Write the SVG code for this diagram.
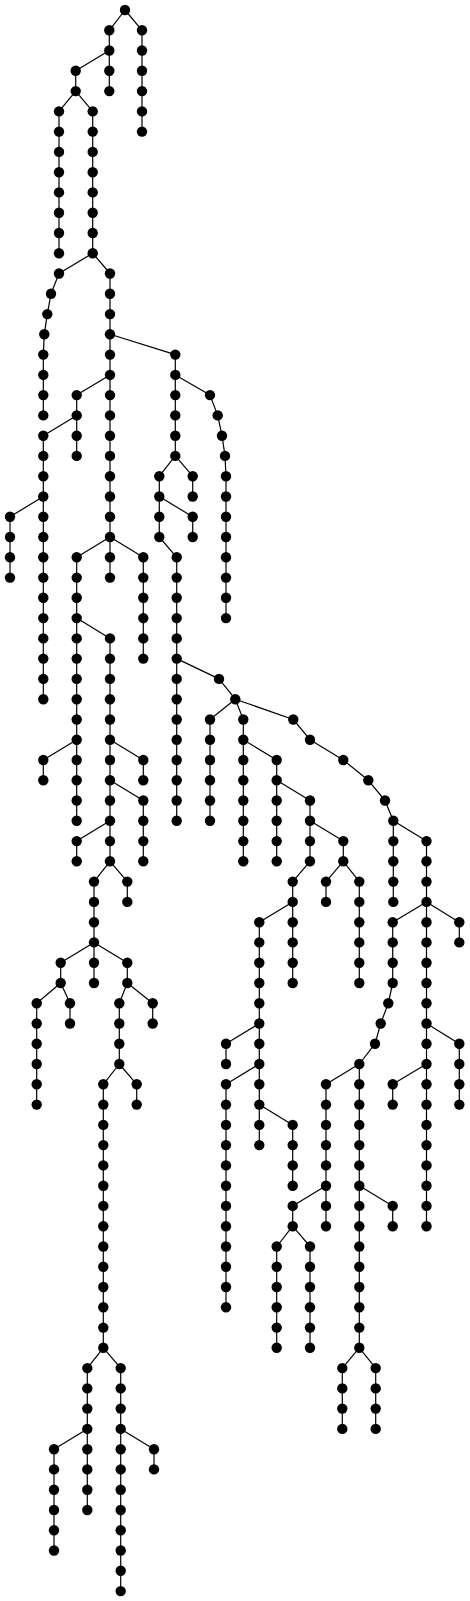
<svg xmlns="http://www.w3.org/2000/svg" xmlns:xlink="http://www.w3.org/1999/xlink" width="470" height="1601" viewBox="0 0 470 1601">
<style>
.e{stroke:#000;stroke-width:1.2;fill:none;stroke-linejoin:round}
.d{fill:#000}
</style>
<defs><circle id="d" class="d" cx="0" cy="0" r="5.2"/></defs>
<rect width="470" height="1601" fill="#fff"/>
<g id="edges" class="e">
<path d="M125,10 L109.3,30.3 L109.3,91.1"/>
<path d="M125,10 L142,30.3 L142,131.6"/>
<path d="M109.3,50.5 L75.7,70.8 L75.7,91.1 L59,111.4 L59,253.2"/>
<path d="M75.7,91.1 L92.7,111.4 L92.7,253.2 L59,273.5 L51,293.8 L47.3,314.1 L44.3,334.3 L43.3,354.6 L43.3,415.4"/>
<path d="M92.7,253.2 L110,273.5 L110,577.6"/>
<path d="M110,334.3 L175.3,354.6 L175.3,455.9 L159.3,476.2 L159.3,537 L176.7,557.3 L176.7,820.8"/>
<path d="M175.3,374.9 L210,395.1 L217.7,415.4 L222,435.7 L225,455.9 L226,476.2 L226,618.1"/>
<path d="M175.3,455.9 L192.7,476.2 L192.7,496.5"/>
<path d="M159.3,496.5 L192.7,516.8 L192.7,537"/>
<path d="M110,374.9 L76.7,395.1 L76.7,455.9"/>
<path d="M76.7,415.4 L43.3,435.7 L43.3,699.2"/>
<path d="M43.3,496.5 L10,516.8 L10,577.6"/>
<path d="M110,537 L76.7,557.3 L76.7,820.8"/>
<path d="M110,537 L143.3,557.3 L143.3,658.6"/>
<path d="M76.7,618.1 L110,638.4 L110,861.3 L94,881.6 L94,983"/>
<path d="M76.7,739.7 L43.3,760 L43.3,780.3"/>
<path d="M110,739.7 L143.3,760 L143.3,780.3"/>
<path d="M110,780.3 L143.3,800.5 L143.3,861.3"/>
<path d="M110,820.8 L76.7,841.1 L76.7,861.3"/>
<path d="M110,861.3 L127.3,881.6 L127.3,901.9"/>
<path d="M94,942.4 L60.7,962.7 L60.7,983 L36.7,1003.2 L36.7,1104.6"/>
<path d="M60.7,983 L70,1003.2 L70,1023.5"/>
<path d="M94,942.4 L127.3,962.7 L127.3,983 L119.3,1003.2 L119.3,1064 L103.3,1084.3 L103.3,1347.8 L87.3,1368.1 L87.3,1428.9 L54,1449.2 L54,1550.5"/>
<path d="M127.3,983 L152.7,1003.2 L152.7,1023.5"/>
<path d="M119.3,1064 L136.7,1084.3 L136.7,1104.6"/>
<path d="M87.3,1428.9 L87.3,1510"/>
<path d="M103.3,1347.8 L120.7,1368.1 L120.7,1591.1"/>
<path d="M120.7,1428.9 L154,1449.2 L154,1469.4"/>
<path d="M176.7,658.6 L219,678.9 L235.3,699.2 L210,719.5 L210,820.8"/>
<path d="M235.3,699.2 L243.3,719.5 L243.3,861.3"/>
<path d="M243.3,739.7 L276.7,760 L276.7,861.3"/>
<path d="M276.7,780.3 L310,800.5 L310,861.3 L292.7,881.6 L292.7,983"/>
<path d="M310,820.8 L343.3,841.1 L343.3,861.3 L359.3,881.6 L359.3,983"/>
<path d="M343.3,861.3 L326,881.6 L326,901.9"/>
<path d="M292.7,901.9 L259.3,922.2 L259.3,1145.1"/>
<path d="M259.3,1023.5 L226,1043.8 L226,1064"/>
<path d="M259.3,1064 L226,1084.3 L226,1307.3"/>
<path d="M259.3,1104.6 L292.7,1124.9 L292.7,1185.7"/>
<path d="M235.3,699.2 L293.3,719.5 L310,739.7 L343.3,760 L368.3,780.3 L385,800.5 L393.3,820.8 L393.3,901.9"/>
<path d="M393.3,820.8 L426.5,841.1 L426.5,1226.2"/>
<path d="M426.5,901.9 L459.3,922.2 L459.3,942.4"/>
<path d="M426.5,901.9 L392.7,922.2 L392.7,983 L388.3,1003.2 L380.7,1023.5 L375,1043.8 L359.3,1064 L359.3,1347.8 L342.3,1368.1 L342.3,1428.9"/>
<path d="M359.3,1347.8 L375.7,1368.1 L375.7,1428.9"/>
<path d="M359.3,1064 L326,1084.3 L326,1226.2"/>
<path d="M326,1185.7 L292.7,1205.9 L292.7,1226.2 L276.7,1246.5 L276.7,1347.8"/>
<path d="M292.7,1226.2 L310,1246.5 L310,1347.8"/>
<path d="M359.3,1185.7 L392.7,1205.9 L392.7,1226.2"/>
<path d="M426.5,1023.5 L459.3,1043.8 L459.3,1104.6"/>
<path d="M426.5,1064 L392.7,1084.3 L392.7,1104.6"/>
</g>
<g id="nodes">
<g id="n0"><use href="#d" x="125" y="10"/></g>
<g id="n1"><use href="#d" x="109.3" y="30.3"/></g>
<g id="n2"><use href="#d" x="109.3" y="50.5"/></g>
<g id="n3"><use href="#d" x="109.3" y="70.8"/></g>
<g id="n4"><use href="#d" x="109.3" y="91.1"/></g>
<g id="n5"><use href="#d" x="142" y="30.3"/></g>
<g id="n6"><use href="#d" x="142" y="50.5"/></g>
<g id="n7"><use href="#d" x="142" y="70.8"/></g>
<g id="n8"><use href="#d" x="142" y="91.1"/></g>
<g id="n9"><use href="#d" x="142" y="111.4"/></g>
<g id="n10"><use href="#d" x="142" y="131.6"/></g>
<g id="n11"><use href="#d" x="75.7" y="70.8"/></g>
<g id="n12"><use href="#d" x="75.7" y="91.1"/></g>
<g id="n13"><use href="#d" x="59" y="111.4"/></g>
<g id="n14"><use href="#d" x="59" y="131.6"/></g>
<g id="n15"><use href="#d" x="59" y="151.9"/></g>
<g id="n16"><use href="#d" x="59" y="172.2"/></g>
<g id="n17"><use href="#d" x="59" y="192.4"/></g>
<g id="n18"><use href="#d" x="59" y="212.7"/></g>
<g id="n19"><use href="#d" x="59" y="233"/></g>
<g id="n20"><use href="#d" x="59" y="253.2"/></g>
<g id="n21"><use href="#d" x="92.7" y="111.4"/></g>
<g id="n22"><use href="#d" x="92.7" y="131.6"/></g>
<g id="n23"><use href="#d" x="92.7" y="151.9"/></g>
<g id="n24"><use href="#d" x="92.7" y="172.2"/></g>
<g id="n25"><use href="#d" x="92.7" y="192.4"/></g>
<g id="n26"><use href="#d" x="92.7" y="212.7"/></g>
<g id="n27"><use href="#d" x="92.7" y="233"/></g>
<g id="n28"><use href="#d" x="92.7" y="253.2"/></g>
<g id="n29"><use href="#d" x="59" y="273.5"/></g>
<g id="n30"><use href="#d" x="51" y="293.8"/></g>
<g id="n31"><use href="#d" x="47.3" y="314.1"/></g>
<g id="n32"><use href="#d" x="44.3" y="334.3"/></g>
<g id="n33"><use href="#d" x="43.3" y="354.6"/></g>
<g id="n34"><use href="#d" x="43.3" y="374.9"/></g>
<g id="n35"><use href="#d" x="43.3" y="395.1"/></g>
<g id="n36"><use href="#d" x="43.3" y="415.4"/></g>
<g id="n37"><use href="#d" x="110" y="273.5"/></g>
<g id="n38"><use href="#d" x="110" y="293.8"/></g>
<g id="n39"><use href="#d" x="110" y="314.1"/></g>
<g id="n40"><use href="#d" x="110" y="334.3"/></g>
<g id="n41"><use href="#d" x="110" y="354.6"/></g>
<g id="n42"><use href="#d" x="110" y="374.9"/></g>
<g id="n43"><use href="#d" x="110" y="395.1"/></g>
<g id="n44"><use href="#d" x="110" y="415.4"/></g>
<g id="n45"><use href="#d" x="110" y="435.7"/></g>
<g id="n46"><use href="#d" x="110" y="455.9"/></g>
<g id="n47"><use href="#d" x="110" y="476.2"/></g>
<g id="n48"><use href="#d" x="110" y="496.5"/></g>
<g id="n49"><use href="#d" x="110" y="516.8"/></g>
<g id="n50"><use href="#d" x="110" y="537"/></g>
<g id="n51"><use href="#d" x="110" y="557.3"/></g>
<g id="n52"><use href="#d" x="110" y="577.6"/></g>
<g id="n53"><use href="#d" x="175.3" y="354.6"/></g>
<g id="n54"><use href="#d" x="175.3" y="374.9"/></g>
<g id="n55"><use href="#d" x="175.3" y="395.1"/></g>
<g id="n56"><use href="#d" x="175.3" y="415.4"/></g>
<g id="n57"><use href="#d" x="175.3" y="435.7"/></g>
<g id="n58"><use href="#d" x="175.3" y="455.9"/></g>
<g id="n59"><use href="#d" x="159.3" y="476.2"/></g>
<g id="n60"><use href="#d" x="159.3" y="496.5"/></g>
<g id="n61"><use href="#d" x="159.3" y="516.8"/></g>
<g id="n62"><use href="#d" x="159.3" y="537"/></g>
<g id="n63"><use href="#d" x="176.7" y="557.3"/></g>
<g id="n64"><use href="#d" x="176.7" y="577.6"/></g>
<g id="n65"><use href="#d" x="176.7" y="597.8"/></g>
<g id="n66"><use href="#d" x="176.7" y="618.1"/></g>
<g id="n67"><use href="#d" x="176.7" y="638.4"/></g>
<g id="n68"><use href="#d" x="176.7" y="658.6"/></g>
<g id="n69"><use href="#d" x="176.7" y="678.9"/></g>
<g id="n70"><use href="#d" x="176.7" y="699.2"/></g>
<g id="n71"><use href="#d" x="176.7" y="719.5"/></g>
<g id="n72"><use href="#d" x="176.7" y="739.7"/></g>
<g id="n73"><use href="#d" x="176.7" y="760"/></g>
<g id="n74"><use href="#d" x="176.7" y="780.3"/></g>
<g id="n75"><use href="#d" x="176.7" y="800.5"/></g>
<g id="n76"><use href="#d" x="176.7" y="820.8"/></g>
<g id="n77"><use href="#d" x="210" y="395.1"/></g>
<g id="n78"><use href="#d" x="217.7" y="415.4"/></g>
<g id="n79"><use href="#d" x="222" y="435.7"/></g>
<g id="n80"><use href="#d" x="225" y="455.9"/></g>
<g id="n81"><use href="#d" x="226" y="476.2"/></g>
<g id="n82"><use href="#d" x="226" y="496.5"/></g>
<g id="n83"><use href="#d" x="226" y="516.8"/></g>
<g id="n84"><use href="#d" x="226" y="537"/></g>
<g id="n85"><use href="#d" x="226" y="557.3"/></g>
<g id="n86"><use href="#d" x="226" y="577.6"/></g>
<g id="n87"><use href="#d" x="226" y="597.8"/></g>
<g id="n88"><use href="#d" x="226" y="618.1"/></g>
<g id="n89"><use href="#d" x="192.7" y="476.2"/></g>
<g id="n90"><use href="#d" x="192.7" y="496.5"/></g>
<g id="n91"><use href="#d" x="192.7" y="516.8"/></g>
<g id="n92"><use href="#d" x="192.7" y="537"/></g>
<g id="n93"><use href="#d" x="76.7" y="395.1"/></g>
<g id="n94"><use href="#d" x="76.7" y="415.4"/></g>
<g id="n95"><use href="#d" x="76.7" y="435.7"/></g>
<g id="n96"><use href="#d" x="76.7" y="455.9"/></g>
<g id="n97"><use href="#d" x="43.3" y="435.7"/></g>
<g id="n98"><use href="#d" x="43.3" y="455.9"/></g>
<g id="n99"><use href="#d" x="43.3" y="476.2"/></g>
<g id="n100"><use href="#d" x="43.3" y="496.5"/></g>
<g id="n101"><use href="#d" x="43.3" y="516.8"/></g>
<g id="n102"><use href="#d" x="43.3" y="537"/></g>
<g id="n103"><use href="#d" x="43.3" y="557.3"/></g>
<g id="n104"><use href="#d" x="43.3" y="577.6"/></g>
<g id="n105"><use href="#d" x="43.3" y="597.8"/></g>
<g id="n106"><use href="#d" x="43.3" y="618.1"/></g>
<g id="n107"><use href="#d" x="43.3" y="638.4"/></g>
<g id="n108"><use href="#d" x="43.3" y="658.6"/></g>
<g id="n109"><use href="#d" x="43.3" y="678.9"/></g>
<g id="n110"><use href="#d" x="43.3" y="699.2"/></g>
<g id="n111"><use href="#d" x="10" y="516.8"/></g>
<g id="n112"><use href="#d" x="10" y="537"/></g>
<g id="n113"><use href="#d" x="10" y="557.3"/></g>
<g id="n114"><use href="#d" x="10" y="577.6"/></g>
<g id="n115"><use href="#d" x="76.7" y="557.3"/></g>
<g id="n116"><use href="#d" x="76.7" y="577.6"/></g>
<g id="n117"><use href="#d" x="76.7" y="597.8"/></g>
<g id="n118"><use href="#d" x="76.7" y="618.1"/></g>
<g id="n119"><use href="#d" x="76.7" y="638.4"/></g>
<g id="n120"><use href="#d" x="76.7" y="658.6"/></g>
<g id="n121"><use href="#d" x="76.7" y="678.9"/></g>
<g id="n122"><use href="#d" x="76.7" y="699.2"/></g>
<g id="n123"><use href="#d" x="76.7" y="719.5"/></g>
<g id="n124"><use href="#d" x="76.7" y="739.7"/></g>
<g id="n125"><use href="#d" x="76.7" y="760"/></g>
<g id="n126"><use href="#d" x="76.7" y="780.3"/></g>
<g id="n127"><use href="#d" x="76.7" y="800.5"/></g>
<g id="n128"><use href="#d" x="76.7" y="820.8"/></g>
<g id="n129"><use href="#d" x="143.3" y="557.3"/></g>
<g id="n130"><use href="#d" x="143.3" y="577.6"/></g>
<g id="n131"><use href="#d" x="143.3" y="597.8"/></g>
<g id="n132"><use href="#d" x="143.3" y="618.1"/></g>
<g id="n133"><use href="#d" x="143.3" y="638.4"/></g>
<g id="n134"><use href="#d" x="143.3" y="658.6"/></g>
<g id="n135"><use href="#d" x="110" y="638.4"/></g>
<g id="n136"><use href="#d" x="110" y="658.6"/></g>
<g id="n137"><use href="#d" x="110" y="678.9"/></g>
<g id="n138"><use href="#d" x="110" y="699.2"/></g>
<g id="n139"><use href="#d" x="110" y="719.5"/></g>
<g id="n140"><use href="#d" x="110" y="739.7"/></g>
<g id="n141"><use href="#d" x="110" y="760"/></g>
<g id="n142"><use href="#d" x="110" y="780.3"/></g>
<g id="n143"><use href="#d" x="110" y="800.5"/></g>
<g id="n144"><use href="#d" x="110" y="820.8"/></g>
<g id="n145"><use href="#d" x="110" y="841.1"/></g>
<g id="n146"><use href="#d" x="110" y="861.3"/></g>
<g id="n147"><use href="#d" x="94" y="881.6"/></g>
<g id="n148"><use href="#d" x="94" y="901.9"/></g>
<g id="n149"><use href="#d" x="94" y="922.2"/></g>
<g id="n150"><use href="#d" x="94" y="942.4"/></g>
<g id="n151"><use href="#d" x="94" y="962.7"/></g>
<g id="n152"><use href="#d" x="94" y="983"/></g>
<g id="n153"><use href="#d" x="43.3" y="760"/></g>
<g id="n154"><use href="#d" x="43.3" y="780.3"/></g>
<g id="n155"><use href="#d" x="143.3" y="760"/></g>
<g id="n156"><use href="#d" x="143.3" y="780.3"/></g>
<g id="n157"><use href="#d" x="143.3" y="800.5"/></g>
<g id="n158"><use href="#d" x="143.3" y="820.8"/></g>
<g id="n159"><use href="#d" x="143.3" y="841.1"/></g>
<g id="n160"><use href="#d" x="143.3" y="861.3"/></g>
<g id="n161"><use href="#d" x="76.7" y="841.1"/></g>
<g id="n162"><use href="#d" x="76.7" y="861.3"/></g>
<g id="n163"><use href="#d" x="127.3" y="881.6"/></g>
<g id="n164"><use href="#d" x="127.3" y="901.9"/></g>
<g id="n165"><use href="#d" x="60.7" y="962.7"/></g>
<g id="n166"><use href="#d" x="60.7" y="983"/></g>
<g id="n167"><use href="#d" x="36.7" y="1003.2"/></g>
<g id="n168"><use href="#d" x="36.7" y="1023.5"/></g>
<g id="n169"><use href="#d" x="36.7" y="1043.8"/></g>
<g id="n170"><use href="#d" x="36.7" y="1064"/></g>
<g id="n171"><use href="#d" x="36.7" y="1084.3"/></g>
<g id="n172"><use href="#d" x="36.7" y="1104.6"/></g>
<g id="n173"><use href="#d" x="70" y="1003.2"/></g>
<g id="n174"><use href="#d" x="70" y="1023.5"/></g>
<g id="n175"><use href="#d" x="127.3" y="962.7"/></g>
<g id="n176"><use href="#d" x="127.3" y="983"/></g>
<g id="n177"><use href="#d" x="119.3" y="1003.2"/></g>
<g id="n178"><use href="#d" x="119.3" y="1023.5"/></g>
<g id="n179"><use href="#d" x="119.3" y="1043.8"/></g>
<g id="n180"><use href="#d" x="119.3" y="1064"/></g>
<g id="n181"><use href="#d" x="103.3" y="1084.3"/></g>
<g id="n182"><use href="#d" x="103.3" y="1104.6"/></g>
<g id="n183"><use href="#d" x="103.3" y="1124.9"/></g>
<g id="n184"><use href="#d" x="103.3" y="1145.1"/></g>
<g id="n185"><use href="#d" x="103.3" y="1165.4"/></g>
<g id="n186"><use href="#d" x="103.3" y="1185.7"/></g>
<g id="n187"><use href="#d" x="103.3" y="1205.9"/></g>
<g id="n188"><use href="#d" x="103.3" y="1226.2"/></g>
<g id="n189"><use href="#d" x="103.3" y="1246.5"/></g>
<g id="n190"><use href="#d" x="103.3" y="1266.7"/></g>
<g id="n191"><use href="#d" x="103.3" y="1287"/></g>
<g id="n192"><use href="#d" x="103.3" y="1307.3"/></g>
<g id="n193"><use href="#d" x="103.3" y="1327.6"/></g>
<g id="n194"><use href="#d" x="103.3" y="1347.8"/></g>
<g id="n195"><use href="#d" x="87.3" y="1368.1"/></g>
<g id="n196"><use href="#d" x="87.3" y="1388.4"/></g>
<g id="n197"><use href="#d" x="87.3" y="1408.6"/></g>
<g id="n198"><use href="#d" x="87.3" y="1428.9"/></g>
<g id="n199"><use href="#d" x="54" y="1449.2"/></g>
<g id="n200"><use href="#d" x="54" y="1469.4"/></g>
<g id="n201"><use href="#d" x="54" y="1489.7"/></g>
<g id="n202"><use href="#d" x="54" y="1510"/></g>
<g id="n203"><use href="#d" x="54" y="1530.3"/></g>
<g id="n204"><use href="#d" x="54" y="1550.5"/></g>
<g id="n205"><use href="#d" x="152.7" y="1003.2"/></g>
<g id="n206"><use href="#d" x="152.7" y="1023.5"/></g>
<g id="n207"><use href="#d" x="136.7" y="1084.3"/></g>
<g id="n208"><use href="#d" x="136.7" y="1104.6"/></g>
<g id="n209"><use href="#d" x="87.3" y="1449.2"/></g>
<g id="n210"><use href="#d" x="87.3" y="1469.4"/></g>
<g id="n211"><use href="#d" x="87.3" y="1489.7"/></g>
<g id="n212"><use href="#d" x="87.3" y="1510"/></g>
<g id="n213"><use href="#d" x="120.7" y="1368.1"/></g>
<g id="n214"><use href="#d" x="120.7" y="1388.4"/></g>
<g id="n215"><use href="#d" x="120.7" y="1408.6"/></g>
<g id="n216"><use href="#d" x="120.7" y="1428.9"/></g>
<g id="n217"><use href="#d" x="120.7" y="1449.2"/></g>
<g id="n218"><use href="#d" x="120.7" y="1469.4"/></g>
<g id="n219"><use href="#d" x="120.7" y="1489.7"/></g>
<g id="n220"><use href="#d" x="120.7" y="1510"/></g>
<g id="n221"><use href="#d" x="120.7" y="1530.3"/></g>
<g id="n222"><use href="#d" x="120.7" y="1550.5"/></g>
<g id="n223"><use href="#d" x="120.7" y="1570.8"/></g>
<g id="n224"><use href="#d" x="120.7" y="1591.1"/></g>
<g id="n225"><use href="#d" x="154" y="1449.2"/></g>
<g id="n226"><use href="#d" x="154" y="1469.4"/></g>
<g id="n227"><use href="#d" x="219" y="678.9"/></g>
<g id="n228"><use href="#d" x="235.3" y="699.2"/></g>
<g id="n229"><use href="#d" x="210" y="719.5"/></g>
<g id="n230"><use href="#d" x="210" y="739.7"/></g>
<g id="n231"><use href="#d" x="210" y="760"/></g>
<g id="n232"><use href="#d" x="210" y="780.3"/></g>
<g id="n233"><use href="#d" x="210" y="800.5"/></g>
<g id="n234"><use href="#d" x="210" y="820.8"/></g>
<g id="n235"><use href="#d" x="243.3" y="719.5"/></g>
<g id="n236"><use href="#d" x="243.3" y="739.7"/></g>
<g id="n237"><use href="#d" x="243.3" y="760"/></g>
<g id="n238"><use href="#d" x="243.3" y="780.3"/></g>
<g id="n239"><use href="#d" x="243.3" y="800.5"/></g>
<g id="n240"><use href="#d" x="243.3" y="820.8"/></g>
<g id="n241"><use href="#d" x="243.3" y="841.1"/></g>
<g id="n242"><use href="#d" x="243.3" y="861.3"/></g>
<g id="n243"><use href="#d" x="276.7" y="760"/></g>
<g id="n244"><use href="#d" x="276.7" y="780.3"/></g>
<g id="n245"><use href="#d" x="276.7" y="800.5"/></g>
<g id="n246"><use href="#d" x="276.7" y="820.8"/></g>
<g id="n247"><use href="#d" x="276.7" y="841.1"/></g>
<g id="n248"><use href="#d" x="276.7" y="861.3"/></g>
<g id="n249"><use href="#d" x="310" y="800.5"/></g>
<g id="n250"><use href="#d" x="310" y="820.8"/></g>
<g id="n251"><use href="#d" x="310" y="841.1"/></g>
<g id="n252"><use href="#d" x="310" y="861.3"/></g>
<g id="n253"><use href="#d" x="292.7" y="881.6"/></g>
<g id="n254"><use href="#d" x="292.7" y="901.9"/></g>
<g id="n255"><use href="#d" x="292.7" y="922.2"/></g>
<g id="n256"><use href="#d" x="292.7" y="942.4"/></g>
<g id="n257"><use href="#d" x="292.7" y="962.7"/></g>
<g id="n258"><use href="#d" x="292.7" y="983"/></g>
<g id="n259"><use href="#d" x="343.3" y="841.1"/></g>
<g id="n260"><use href="#d" x="343.3" y="861.3"/></g>
<g id="n261"><use href="#d" x="359.3" y="881.6"/></g>
<g id="n262"><use href="#d" x="359.3" y="901.9"/></g>
<g id="n263"><use href="#d" x="359.3" y="922.2"/></g>
<g id="n264"><use href="#d" x="359.3" y="942.4"/></g>
<g id="n265"><use href="#d" x="359.3" y="962.7"/></g>
<g id="n266"><use href="#d" x="359.3" y="983"/></g>
<g id="n267"><use href="#d" x="326" y="881.6"/></g>
<g id="n268"><use href="#d" x="326" y="901.9"/></g>
<g id="n269"><use href="#d" x="259.3" y="922.2"/></g>
<g id="n270"><use href="#d" x="259.3" y="942.4"/></g>
<g id="n271"><use href="#d" x="259.3" y="962.7"/></g>
<g id="n272"><use href="#d" x="259.3" y="983"/></g>
<g id="n273"><use href="#d" x="259.3" y="1003.2"/></g>
<g id="n274"><use href="#d" x="259.3" y="1023.5"/></g>
<g id="n275"><use href="#d" x="259.3" y="1043.8"/></g>
<g id="n276"><use href="#d" x="259.3" y="1064"/></g>
<g id="n277"><use href="#d" x="259.3" y="1084.3"/></g>
<g id="n278"><use href="#d" x="259.3" y="1104.6"/></g>
<g id="n279"><use href="#d" x="259.3" y="1124.9"/></g>
<g id="n280"><use href="#d" x="259.3" y="1145.1"/></g>
<g id="n281"><use href="#d" x="226" y="1043.8"/></g>
<g id="n282"><use href="#d" x="226" y="1064"/></g>
<g id="n283"><use href="#d" x="226" y="1084.3"/></g>
<g id="n284"><use href="#d" x="226" y="1104.6"/></g>
<g id="n285"><use href="#d" x="226" y="1124.9"/></g>
<g id="n286"><use href="#d" x="226" y="1145.1"/></g>
<g id="n287"><use href="#d" x="226" y="1165.4"/></g>
<g id="n288"><use href="#d" x="226" y="1185.7"/></g>
<g id="n289"><use href="#d" x="226" y="1205.9"/></g>
<g id="n290"><use href="#d" x="226" y="1226.2"/></g>
<g id="n291"><use href="#d" x="226" y="1246.5"/></g>
<g id="n292"><use href="#d" x="226" y="1266.7"/></g>
<g id="n293"><use href="#d" x="226" y="1287"/></g>
<g id="n294"><use href="#d" x="226" y="1307.3"/></g>
<g id="n295"><use href="#d" x="292.7" y="1124.9"/></g>
<g id="n296"><use href="#d" x="292.7" y="1145.1"/></g>
<g id="n297"><use href="#d" x="292.7" y="1165.4"/></g>
<g id="n298"><use href="#d" x="292.7" y="1185.7"/></g>
<g id="n299"><use href="#d" x="293.3" y="719.5"/></g>
<g id="n300"><use href="#d" x="310" y="739.7"/></g>
<g id="n301"><use href="#d" x="343.3" y="760"/></g>
<g id="n302"><use href="#d" x="368.3" y="780.3"/></g>
<g id="n303"><use href="#d" x="385" y="800.5"/></g>
<g id="n304"><use href="#d" x="393.3" y="820.8"/></g>
<g id="n305"><use href="#d" x="393.3" y="841.1"/></g>
<g id="n306"><use href="#d" x="393.3" y="861.3"/></g>
<g id="n307"><use href="#d" x="393.3" y="881.6"/></g>
<g id="n308"><use href="#d" x="393.3" y="901.9"/></g>
<g id="n309"><use href="#d" x="426.5" y="841.1"/></g>
<g id="n310"><use href="#d" x="426.5" y="861.3"/></g>
<g id="n311"><use href="#d" x="426.5" y="881.6"/></g>
<g id="n312"><use href="#d" x="426.5" y="901.9"/></g>
<g id="n313"><use href="#d" x="426.5" y="922.2"/></g>
<g id="n314"><use href="#d" x="426.5" y="942.4"/></g>
<g id="n315"><use href="#d" x="426.5" y="962.7"/></g>
<g id="n316"><use href="#d" x="426.5" y="983"/></g>
<g id="n317"><use href="#d" x="426.5" y="1003.2"/></g>
<g id="n318"><use href="#d" x="426.5" y="1023.5"/></g>
<g id="n319"><use href="#d" x="426.5" y="1043.8"/></g>
<g id="n320"><use href="#d" x="426.5" y="1064"/></g>
<g id="n321"><use href="#d" x="426.5" y="1084.3"/></g>
<g id="n322"><use href="#d" x="426.5" y="1104.6"/></g>
<g id="n323"><use href="#d" x="426.5" y="1124.9"/></g>
<g id="n324"><use href="#d" x="426.5" y="1145.1"/></g>
<g id="n325"><use href="#d" x="426.5" y="1165.4"/></g>
<g id="n326"><use href="#d" x="426.5" y="1185.7"/></g>
<g id="n327"><use href="#d" x="426.5" y="1205.9"/></g>
<g id="n328"><use href="#d" x="426.5" y="1226.2"/></g>
<g id="n329"><use href="#d" x="459.3" y="922.2"/></g>
<g id="n330"><use href="#d" x="459.3" y="942.4"/></g>
<g id="n331"><use href="#d" x="392.7" y="922.2"/></g>
<g id="n332"><use href="#d" x="392.7" y="942.4"/></g>
<g id="n333"><use href="#d" x="392.7" y="962.7"/></g>
<g id="n334"><use href="#d" x="392.7" y="983"/></g>
<g id="n335"><use href="#d" x="388.3" y="1003.2"/></g>
<g id="n336"><use href="#d" x="380.7" y="1023.5"/></g>
<g id="n337"><use href="#d" x="375" y="1043.8"/></g>
<g id="n338"><use href="#d" x="359.3" y="1064"/></g>
<g id="n339"><use href="#d" x="359.3" y="1084.3"/></g>
<g id="n340"><use href="#d" x="359.3" y="1104.6"/></g>
<g id="n341"><use href="#d" x="359.3" y="1124.9"/></g>
<g id="n342"><use href="#d" x="359.3" y="1145.1"/></g>
<g id="n343"><use href="#d" x="359.3" y="1165.4"/></g>
<g id="n344"><use href="#d" x="359.3" y="1185.7"/></g>
<g id="n345"><use href="#d" x="359.3" y="1205.9"/></g>
<g id="n346"><use href="#d" x="359.3" y="1226.2"/></g>
<g id="n347"><use href="#d" x="359.3" y="1246.5"/></g>
<g id="n348"><use href="#d" x="359.3" y="1266.7"/></g>
<g id="n349"><use href="#d" x="359.3" y="1287"/></g>
<g id="n350"><use href="#d" x="359.3" y="1307.3"/></g>
<g id="n351"><use href="#d" x="359.3" y="1327.6"/></g>
<g id="n352"><use href="#d" x="359.3" y="1347.8"/></g>
<g id="n353"><use href="#d" x="342.3" y="1368.1"/></g>
<g id="n354"><use href="#d" x="342.3" y="1388.4"/></g>
<g id="n355"><use href="#d" x="342.3" y="1408.6"/></g>
<g id="n356"><use href="#d" x="342.3" y="1428.9"/></g>
<g id="n357"><use href="#d" x="375.7" y="1368.1"/></g>
<g id="n358"><use href="#d" x="375.7" y="1388.4"/></g>
<g id="n359"><use href="#d" x="375.7" y="1408.6"/></g>
<g id="n360"><use href="#d" x="375.7" y="1428.9"/></g>
<g id="n361"><use href="#d" x="326" y="1084.3"/></g>
<g id="n362"><use href="#d" x="326" y="1104.6"/></g>
<g id="n363"><use href="#d" x="326" y="1124.9"/></g>
<g id="n364"><use href="#d" x="326" y="1145.1"/></g>
<g id="n365"><use href="#d" x="326" y="1165.4"/></g>
<g id="n366"><use href="#d" x="326" y="1185.7"/></g>
<g id="n367"><use href="#d" x="326" y="1205.9"/></g>
<g id="n368"><use href="#d" x="326" y="1226.2"/></g>
<g id="n369"><use href="#d" x="292.7" y="1205.9"/></g>
<g id="n370"><use href="#d" x="292.7" y="1226.2"/></g>
<g id="n371"><use href="#d" x="276.7" y="1246.5"/></g>
<g id="n372"><use href="#d" x="276.7" y="1266.7"/></g>
<g id="n373"><use href="#d" x="276.7" y="1287"/></g>
<g id="n374"><use href="#d" x="276.7" y="1307.3"/></g>
<g id="n375"><use href="#d" x="276.7" y="1327.6"/></g>
<g id="n376"><use href="#d" x="276.7" y="1347.8"/></g>
<g id="n377"><use href="#d" x="310" y="1246.5"/></g>
<g id="n378"><use href="#d" x="310" y="1266.7"/></g>
<g id="n379"><use href="#d" x="310" y="1287"/></g>
<g id="n380"><use href="#d" x="310" y="1307.3"/></g>
<g id="n381"><use href="#d" x="310" y="1327.6"/></g>
<g id="n382"><use href="#d" x="310" y="1347.8"/></g>
<g id="n383"><use href="#d" x="392.7" y="1205.9"/></g>
<g id="n384"><use href="#d" x="392.7" y="1226.2"/></g>
<g id="n385"><use href="#d" x="459.3" y="1043.8"/></g>
<g id="n386"><use href="#d" x="459.3" y="1064"/></g>
<g id="n387"><use href="#d" x="459.3" y="1084.3"/></g>
<g id="n388"><use href="#d" x="459.3" y="1104.6"/></g>
<g id="n389"><use href="#d" x="392.7" y="1084.3"/></g>
<g id="n390"><use href="#d" x="392.7" y="1104.6"/></g>
</g>
</svg>
